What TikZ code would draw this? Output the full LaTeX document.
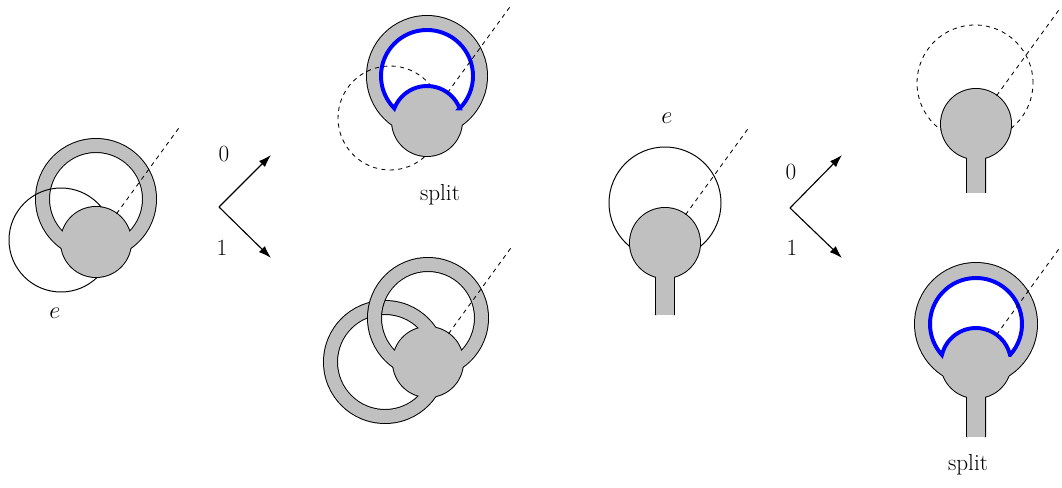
\documentclass[tikz,border=0pt]{standalone}
\usepackage{fontspec}
\usepackage{tikz}
\usetikzlibrary{calc,arrows.meta}
\definecolor{blobgray}{RGB}{192,192,192}
\definecolor{splitblue}{RGB}{0,0,255}

\tikzset{
  rim/.style={draw=black, line width=1.4pt},
  blob/.style={fill=blobgray},
  splitline/.style={draw=splitblue, line width=2.8pt, line join=miter},
  eloop/.style={draw=black, line width=0.7pt},
  ghost/.style={draw=black, dashed, line width=0.6pt},
  ray/.style={draw=black, dashed, line width=0.6pt},
  fork/.style={->, line width=0.8pt},
}

\begin{document}
\begin{tikzpicture}[x=0.025cm, y=0.025cm, font=\fontsize{16.5}{19}\selectfont, >={Latex[length=9pt,width=6pt]}]
            \useasboundingbox (0,0) rectangle (1062,487);

            % Left: ring on the disc, with the loop e
            \coordinate (ring1) at (96,288);
            \coordinate (disc1) at (96,245);
            \coordinate (e1) at (61,247);
            \draw[rim] (ring1) circle[radius=60] (ring1) circle[radius=47] (disc1) circle[radius=35];
            \fill[blob, even odd rule] (ring1) circle[radius=60] (ring1) circle[radius=47];
            \draw[eloop] (e1) circle[radius=52];
            \fill[blob] (disc1) circle[radius=35];
            \draw[ray] ($(disc1)+(54:35)$) -- ($(disc1)+(54:144)$);
            \node (elabel1) at (55,174) {$e$};

            % First fork
            \coordinate (fork1) at (219,280);
            \coordinate (up1) at (271,332);
            \coordinate (down1) at (271,229);
            \draw[fork] (fork1) -- (up1);
            \draw[fork] (fork1) -- (down1);
            \node (zero1) at (224,333) {0};
            \node (one1) at (222,239) {1};

            % Branch 0: split
            \coordinate (ring2) at (427,411);
            \coordinate (disc2) at (427,366);
            \coordinate (e2) at (390,369);
            \draw[rim] (ring2) circle[radius=60] (ring2) circle[radius=47] (disc2) circle[radius=35];
            \fill[blob, even odd rule] (ring2) circle[radius=60] (ring2) circle[radius=47];
            \draw[ghost] (e2) circle[radius=52];
            \fill[blob] (disc2) circle[radius=35];
            \draw[splitline] ($(ring2)+(-44.8:46)$) arc[start angle=-44.8, end angle=224.8, radius=46] arc[start angle=158.9, end angle=21.1, radius=35] -- cycle;
            \draw[ray] ($(disc2)+(54:35)$) -- ($(disc2)+(54:144)$);
            \node (split2) at (440,292) {split};

            % Branch 1: two rings
            \coordinate (ring3) at (428,169);
            \coordinate (ring3b) at (385,125);
            \coordinate (disc3) at (428,125);
            \draw[rim] (ring3b) circle[radius=61] (ring3b) circle[radius=48] (disc3) circle[radius=35];
            \fill[blob, even odd rule] (ring3b) circle[radius=61] (ring3b) circle[radius=48];
            \draw[rim] (ring3) circle[radius=60] (ring3) circle[radius=47];
            \fill[blob, even odd rule] (ring3) circle[radius=60] (ring3) circle[radius=47];
            \fill[blob] (disc3) circle[radius=35];
            \draw[ray] ($(disc3)+(54:35)$) -- ($(disc3)+(54:144)$);

            % Right: disc on a stem, with the loop e
            \coordinate (disc4) at (665,244);
            \coordinate (e4) at (665,284);
            \draw[eloop] (e4) circle[radius=56];
            \draw[rim] (disc4) circle[radius=35] ($(disc4)+(-9,-20)$) -- ($(disc4)+(-9,-72)$) ($(disc4)+(9,-20)$) -- ($(disc4)+(9,-72)$);
            \fill[blob] ($(disc4)+(-9,-30)$) rectangle ($(disc4)+(9,-72)$);
            \fill[blob] (disc4) circle[radius=35];
            \draw[ray] ($(disc4)+(54:35)$) -- ($(disc4)+(54:144)$);
            \node (elabel4) at (667,369) {$e$};

            % Second fork
            \coordinate (fork2) at (790,279);
            \coordinate (up2) at (842,332);
            \coordinate (down2) at (842,229);
            \draw[fork] (fork2) -- (up2);
            \draw[fork] (fork2) -- (down2);
            \node (zero2) at (791,315) {0};
            \node (one2) at (792,239) {1};

            % Branch 0: loop removed
            \coordinate (disc5) at (976,363);
            \coordinate (e5) at (975,404);
            \draw[ghost] (e5) circle[radius=58];
            \draw[rim] (disc5) circle[radius=35] ($(disc5)+(-9,-20)$) -- ($(disc5)+(-9,-69)$) ($(disc5)+(9,-20)$) -- ($(disc5)+(9,-69)$);
            \fill[blob] ($(disc5)+(-9,-30)$) rectangle ($(disc5)+(9,-69)$);
            \fill[blob] (disc5) circle[radius=35];
            \draw[ray] ($(disc5)+(54:35)$) -- ($(disc5)+(54:144)$);

            % Branch 1: split
            \coordinate (ring6) at (976,163);
            \coordinate (disc6) at (976,124);
            \draw[rim] (ring6) circle[radius=61] (ring6) circle[radius=47.5] (disc6) circle[radius=35] ($(disc6)+(-9,-20)$) -- ($(disc6)+(-9,-74)$) ($(disc6)+(9,-20)$) -- ($(disc6)+(9,-74)$);
            \fill[blob, even odd rule] (ring6) circle[radius=61] (ring6) circle[radius=47.5];
            \fill[blob] ($(disc6)+(-9,-30)$) rectangle ($(disc6)+(9,-74)$);
            \fill[blob] (disc6) circle[radius=35];
            \draw[splitline] ($(ring6)+(-42.2:46)$) arc[start angle=-42.2, end angle=222.2, radius=46] arc[start angle=166.6, end angle=13.4, radius=35] -- cycle;
            \draw[ray] ($(disc6)+(54:35)$) -- ($(disc6)+(54:144)$);
            \node (split6) at (968,22) {split};
        \end{tikzpicture}
\end{document}
